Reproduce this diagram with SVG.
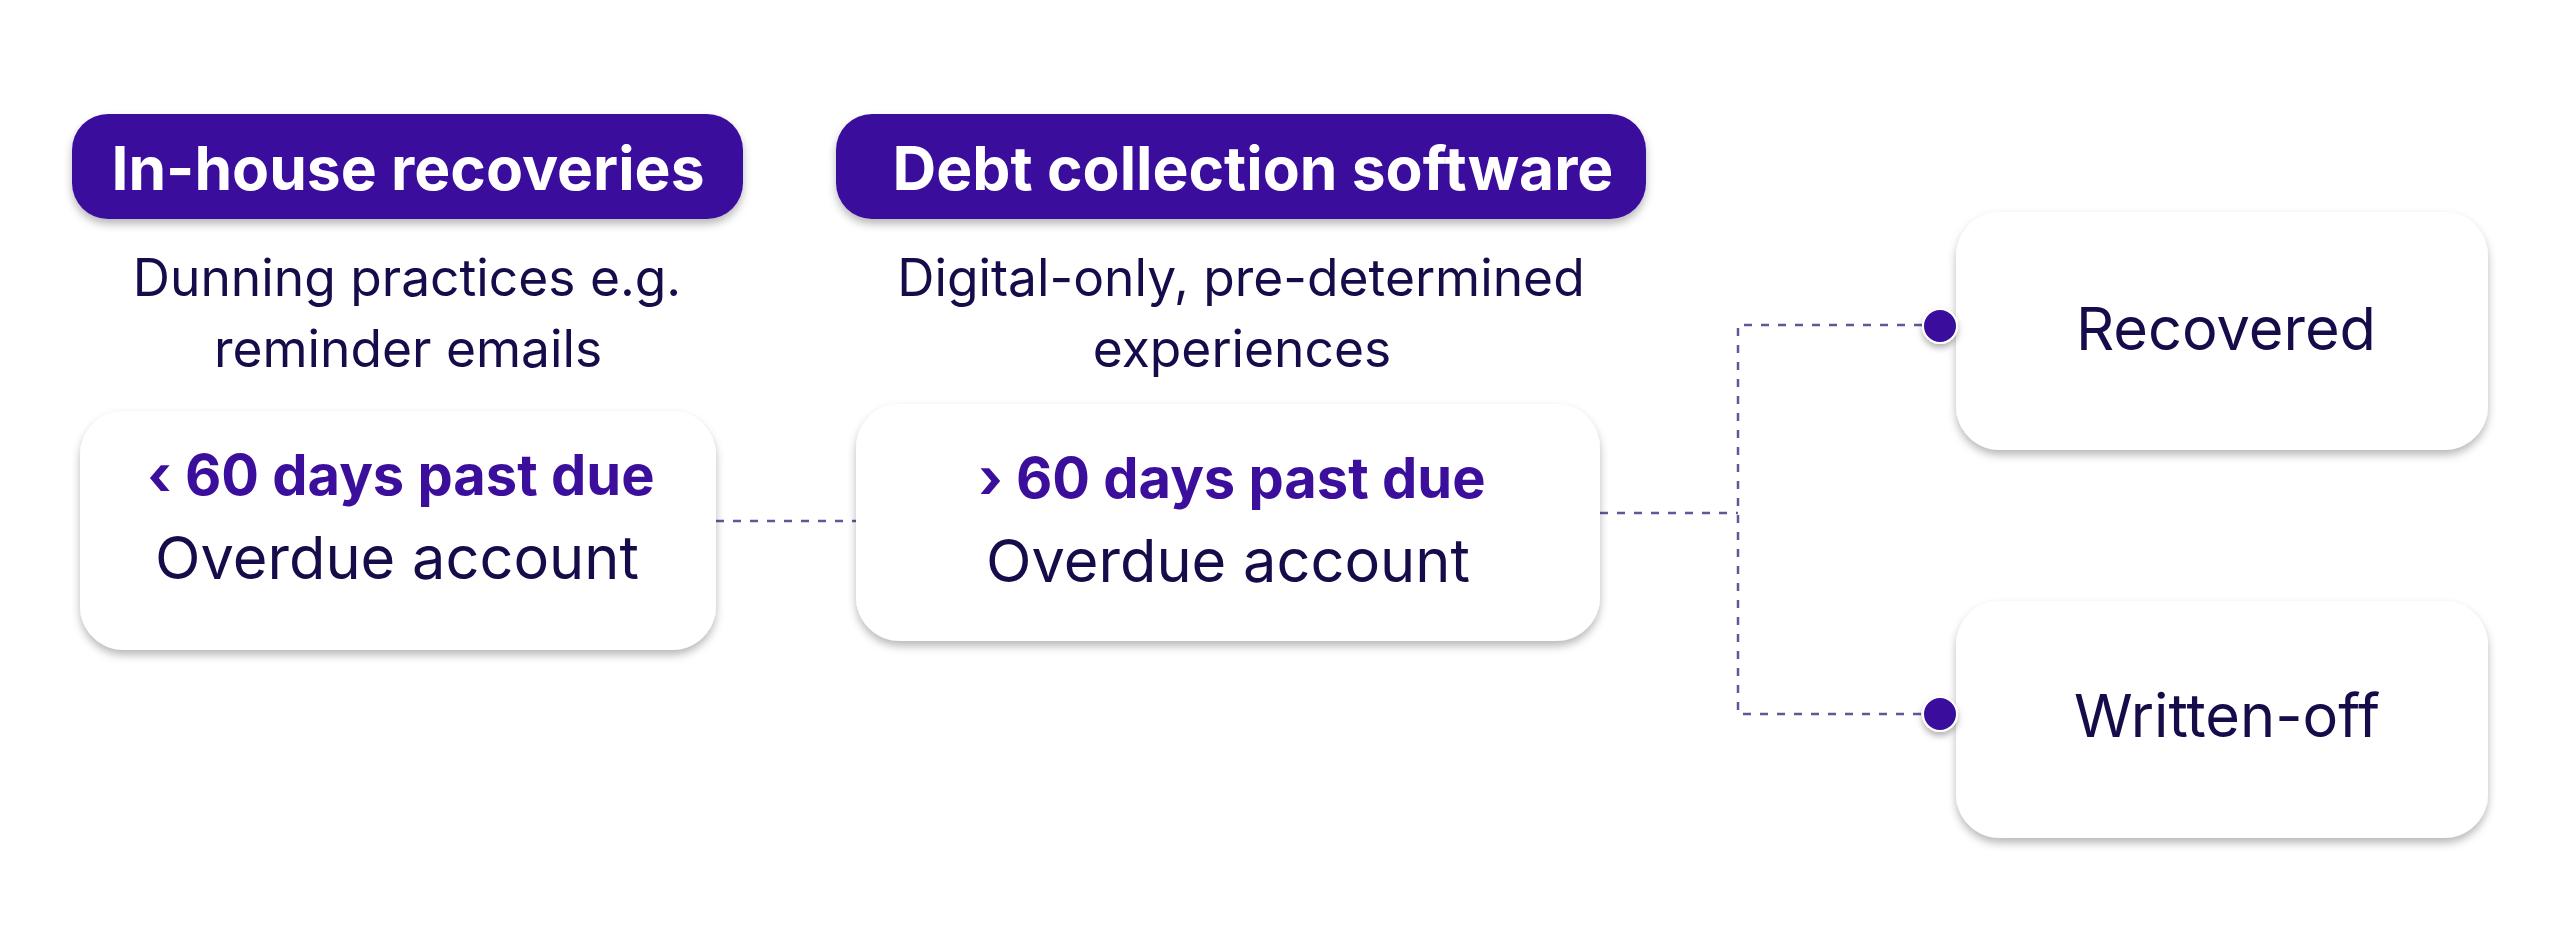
<svg xmlns="http://www.w3.org/2000/svg" width="2560" height="952" viewBox="0 0 2560 952">
<defs>
<filter id="sh" x="-10%" y="-20%" width="120%" height="150%">
<feDropShadow dx="0" dy="5" stdDeviation="4" flood-color="#000" flood-opacity="0.28"/>
</filter>
<filter id="dsh" x="-50%" y="-50%" width="200%" height="200%">
<feDropShadow dx="0" dy="4" stdDeviation="3" flood-color="#000" flood-opacity="0.3"/>
</filter>
</defs>
<style>
.hdr{fill:#3B0F9C;filter:url(#sh)}
.card{fill:#fff;filter:url(#sh)}
.ht{font-family:Inter,"Liberation Sans",sans-serif;font-weight:700;font-size:60.5px;fill:#fff;text-anchor:middle}
.sub{font-family:Inter,"Liberation Sans",sans-serif;font-weight:400;font-size:51.5px;fill:#150C4A;text-anchor:middle}
.days{font-family:Inter,"Liberation Sans",sans-serif;font-weight:700;font-size:56px;fill:#3B0F9C;text-anchor:middle}
.main{font-family:Inter,"Liberation Sans",sans-serif;font-weight:400;font-size:59.5px;fill:#150C4A;text-anchor:middle}
.con{fill:none;stroke:#5B5A96;stroke-width:2.5;stroke-dasharray:8 9}
.dot{fill:#3B0F9C;stroke:#fff;stroke-width:2;filter:url(#dsh)}
</style>
<rect width="2560" height="952" fill="#fff"/>
<g id="connectors">
<path class="con" d="M716 521H856"/>
<path class="con" d="M1600 513H1738"/>
<path class="con" d="M1922 325H1738V714H1922"/>
</g>
<g id="header-inhouse">
<rect class="hdr" x="72" y="114" width="671" height="105" rx="36"/>
<text class="ht" x="408" y="190">In-house recoveries</text>
</g>
<g id="header-software">
<rect class="hdr" x="836" y="114" width="810" height="105" rx="36"/>
<text class="ht" x="1253" y="190">Debt collection software</text>
</g>
<g id="desc-inhouse">
<text class="sub" x="407" y="296">Dunning practices e.g.</text>
<text class="sub" x="408" y="367">reminder emails</text>
</g>
<g id="desc-software">
<text class="sub" x="1241" y="296">Digital-only, pre-determined</text>
<text class="sub" x="1242" y="367">experiences</text>
</g>
<g id="node-lt60">
<rect class="card" x="80" y="411" width="636" height="239" rx="44"/>
<text class="days" x="401" y="495">‹ 60 days past due</text>
<text class="main" x="397" y="579">Overdue account</text>
</g>
<g id="node-gt60">
<rect class="card" x="856" y="404" width="744" height="237" rx="44"/>
<text class="days" x="1232" y="498">› 60 days past due</text>
<text class="main" x="1228" y="582">Overdue account</text>
</g>
<g id="node-recovered">
<rect class="card" x="1956" y="212" width="532" height="238" rx="44"/>
<circle class="dot" cx="1940" cy="326" r="17"/>
<text class="main" x="2226" y="350">Recovered</text>
</g>
<g id="node-writtenoff">
<rect class="card" x="1956" y="601" width="532" height="237" rx="44"/>
<circle class="dot" cx="1940" cy="714" r="17"/>
<text class="main" x="2227" y="737">Written-off</text>
</g>
</svg>
